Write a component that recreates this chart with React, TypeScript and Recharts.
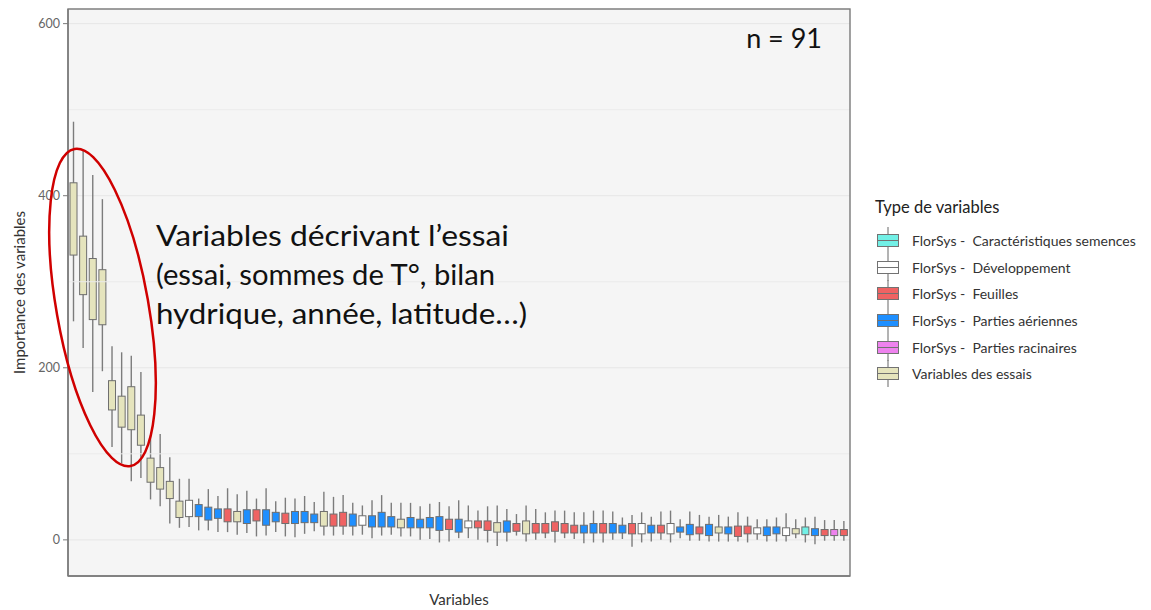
import React from 'react'
import { ComposedChart, Bar, XAxis, YAxis, CartesianGrid, ReferenceLine } from 'recharts'

// one entry per variable, sorted by importance (81 boxes drawn)
const boxTypes = [
  'essai', 'essai', 'essai', 'essai', 'essai', 'essai', 'essai', 'essai', 'essai', 'essai',
  'essai', 'essai', 'dev', 'aer', 'aer', 'aer', 'feuil', 'essai', 'aer', 'feuil',
  'aer', 'aer', 'feuil', 'aer', 'aer', 'aer', 'essai', 'feuil', 'feuil', 'aer',
  'dev', 'aer', 'aer', 'aer', 'essai', 'aer', 'aer', 'aer', 'aer', 'feuil',
  'aer', 'dev', 'feuil', 'feuil', 'essai', 'aer', 'feuil', 'essai', 'feuil', 'feuil',
  'feuil', 'feuil', 'feuil', 'aer', 'aer', 'feuil', 'aer', 'aer', 'feuil', 'dev',
  'aer', 'feuil', 'dev', 'aer', 'aer', 'feuil', 'aer', 'essai', 'aer', 'feuil',
  'feuil', 'dev', 'aer', 'aer', 'dev', 'essai', 'sem', 'aer', 'feuil', 'rac',
  'feuil',
]

const whiskerHigh = [
  486, 452, 424, 396, 225, 218, 214, 195, 122, 123,
  96, 71, 71, 48, 59, 51, 60, 53, 57, 48,
  60, 45, 49, 48, 51, 44, 56, 50, 52, 43,
  40, 46, 52, 43, 43, 43, 39, 42, 44, 39,
  46, 40, 34, 39, 40, 36, 30, 40, 36, 32,
  34, 34, 32, 32, 34, 34, 33, 26, 29, 32,
  27, 33, 34, 24, 33, 29, 27, 29, 27, 32,
  27, 24, 24, 26, 31, 24, 26, 27, 23, 23,
  22,
]

const boxTop = [
  415, 353, 327, 314, 185, 167, 178, 145, 95, 84,
  68, 45, 46, 41, 38, 36, 36, 33, 35, 35,
  35, 32, 31, 33, 33, 30, 33, 30, 32, 30,
  28, 28, 32, 27, 24, 26, 24, 26, 27, 24,
  24, 22, 22, 22, 20, 22, 19, 22, 19, 19,
  21, 19, 17, 17, 19, 19, 19, 17, 19, 19,
  17, 17, 19, 15, 18, 15, 18, 15, 15, 16,
  16, 14, 15, 15, 14, 13, 15, 13, 12, 12,
  12,
]

const boxBottom = [
  331, 285, 256, 250, 151, 131, 128, 110, 67, 59,
  48, 26, 27, 27, 23, 25, 21, 21, 19, 22,
  17, 21, 19, 19, 20, 20, 16, 16, 16, 16,
  17, 15, 15, 15, 14, 14, 14, 14, 11, 12,
  9, 14, 14, 11, 9, 9, 10, 7, 8, 8,
  10, 8, 8, 8, 8, 8, 8, 8, 7, 7,
  8, 8, 7, 9, 6, 7, 5, 8, 7, 4,
  7, 7, 5, 7, 5, 7, 6, 5, 5, 5,
  5,
]

const whiskerLow = [
  254, 223, 172, 196, 108, 89, 68, 72, 47, 39,
  19, 14, 15, 11, 11, 9, 9, 6, 8, 4,
  5, 9, 4, 3, 7, 10, 5, 5, 6, 5,
  6, 2, 5, 6, 4, 4, 0, 1, -3, -2,
  2, 2, 0, -3, -7, -2, 5, -2, 0, 2,
  -3, 2, 1, -4, -3, -3, 0, 1, -8, -3,
  -2, 0, -3, 2, -1, -1, -2, -2, -2, -2,
  -3, 0, -2, -2, -2, 2, -3, -5, -1, -1,
  -1,
]

const legendTypes = ['sem', 'dev', 'feuil', 'aer', 'rac', 'essai']
const legendLabels = [
  'FlorSys -  Caractéristiques semences',
  'FlorSys -  Développement',
  'FlorSys -  Feuilles',
  'FlorSys -  Parties aériennes',
  'FlorSys -  Parties racinaires',
  'Variables des essais',
]

const yTicks = [0, 200, 400, 600]
const yMinor = [100, 300, 500]
const yDomain = [-42, 617]

const TYPE_COLORS: Record<string, string> = {
  sem: '#72F0E6',
  dev: '#FFFFFF',
  feuil: '#EF6363',
  aer: '#1E8FFF',
  rac: '#EE82EE',
  essai: '#E5E4BD',
}

const FONT = "Lato, 'Open Sans', sans-serif"
const BORDER = '#7a7a7a'

const data = boxTypes.map((type, i) => ({
  name: `v${i + 1}`,
  range: [whiskerLow[i], whiskerHigh[i]],
  lo: whiskerLow[i],
  hi: whiskerHigh[i],
  q1: boxBottom[i],
  q3: boxTop[i],
  type,
}))

const BoxShape = (props: any) => {
  const { x, y, width, height, payload } = props
  if (!payload) return null
  const { lo, hi, q1, q3, type } = payload
  const k = height / (hi - lo)
  const cx = x + width / 2
  const yTop = y + (hi - q3) * k
  const yBot = y + (hi - q1) * k
  return (
    <g>
      <line x1={cx} x2={cx} y1={y} y2={y + height} stroke="#7c7c7c" strokeWidth={1.4} />
      <rect
        x={x}
        y={yTop}
        width={width}
        height={yBot - yTop}
        fill={TYPE_COLORS[type]}
        stroke="#6e6e6e"
        strokeWidth={1}
      />
    </g>
  )
}

const LegendKey = ({ color }: { color: string }) => (
  <svg width={26} height={27} style={{ display: 'block' }}>
    <line x1={13} x2={13} y1={0} y2={27} stroke="#808080" strokeWidth={1.2} />
    <rect x={2.5} y={7.5} width={21} height={12} fill={color} stroke="#727272" strokeWidth={1} />
    <line x1={2.5} x2={23.5} y1={13.5} y2={13.5} stroke="#727272" strokeWidth={1} />
  </svg>
)

export default function App() {
  return (
    <div
      style={{
        position: 'absolute',
        left: 0,
        top: 0,
        width: 1151,
        height: 610,
        background: '#fff',
        fontFamily: FONT,
      }}
    >
      <ComposedChart
        width={860}
        height={610}
        data={data}
        margin={{ top: 9, right: 10, left: 0, bottom: 0 }}
      >
        <CartesianGrid vertical={false} fill="#F5F5F5" stroke="#E6E6E6" strokeWidth={1} />
        {yMinor.map((v) => (
          <ReferenceLine key={v} y={v} stroke="#EBEBEB" strokeWidth={1} />
        ))}
        <XAxis
          dataKey="name"
          type="category"
          tick={false}
          tickLine={false}
          axisLine={{ stroke: BORDER, strokeWidth: 1.4 }}
          height={34}
          padding={{ left: 1, right: 1 }}
          label={{
            content: (p: any) => {
              const vb = p.viewBox
              return (
                <text
                  x={vb.x + vb.width / 2}
                  y={vb.y + 29}
                  textAnchor="middle"
                  fontSize={15}
                  fill="#333"
                  fontFamily={FONT}
                >
                  Variables
                </text>
              )
            },
          }}
        />
        <YAxis
          domain={yDomain}
          ticks={yTicks}
          allowDataOverflow
          width={68}
          tickSize={5}
          tickMargin={3}
          tick={{ fontSize: 12.5, fill: '#666', fontFamily: FONT }}
          tickLine={{ stroke: BORDER }}
          axisLine={{ stroke: BORDER, strokeWidth: 1.4 }}
          label={{
            content: (p: any) => {
              const vb = p.viewBox
              const cy = vb.y + vb.height / 2
              return (
                <text
                  x={19}
                  y={cy}
                  transform={`rotate(-90, 19, ${cy})`}
                  textAnchor="middle"
                  dominantBaseline="central"
                  fontSize={15}
                  fill="#333"
                  fontFamily={FONT}
                >
                  Importance des variables
                </text>
              )
            },
          }}
        />
        <Bar dataKey="range" barSize={7} shape={BoxShape} isAnimationActive={false} />
      </ComposedChart>

      <svg
        width={1151}
        height={610}
        style={{ position: 'absolute', left: 0, top: 0, pointerEvents: 'none' }}
      >
        {/* panel border */}
        <rect x={68} y={9} width={782} height={567} fill="none" stroke={BORDER} strokeWidth={1.4} />
        <ellipse
          cx={102.5}
          cy={307.5}
          rx={46}
          ry={161}
          transform="rotate(-10, 102.5, 307.5)"
          fill="none"
          stroke="#D00000"
          strokeWidth={2.5}
        />
        <g fontFamily={FONT} fontSize={29} fill="#111">
          <text x={156} y={245.5} textLength={353} lengthAdjust="spacingAndGlyphs">
            Variables décrivant l’essai
          </text>
          <text x={156} y={284.5} textLength={339} lengthAdjust="spacingAndGlyphs">
            (essai, sommes de T°, bilan
          </text>
          <text x={156} y={323.5} textLength={371} lengthAdjust="spacingAndGlyphs">
            hydrique, année, latitude…)
          </text>
        </g>
        <text x={822} y={48} textAnchor="end" fontFamily={FONT} fontSize={27} fill="#111">
          n = 91
        </text>
      </svg>

      <div style={{ position: 'absolute', left: 875, top: 197, color: '#222' }}>
        <div style={{ fontSize: 16.5, lineHeight: '20px', height: 30 }}>Type de variables</div>
        {legendTypes.map((t, i) => (
          <div
            key={t}
            style={{ display: 'flex', alignItems: 'center', height: 26.7 }}
          >
            <LegendKey color={TYPE_COLORS[t]} />
            <span
              style={{
                marginLeft: 11,
                fontSize: 14,
                color: '#333',
                whiteSpace: 'pre',
              }}
            >
              {legendLabels[i]}
            </span>
          </div>
        ))}
      </div>
    </div>
  )
}
